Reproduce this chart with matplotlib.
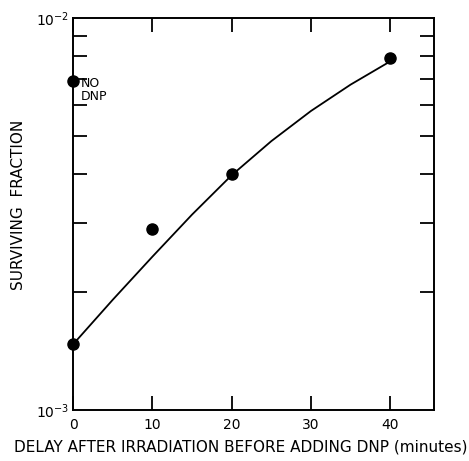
import numpy as np
import matplotlib
matplotlib.use('Agg')
import matplotlib.pyplot as plt
from matplotlib.ticker import LogLocator, NullFormatter, FixedLocator

# measured points (delay in minutes, surviving fraction)
delay = [0, 10, 20, 40]
surv = [1.47e-3, 2.9e-3, 4.0e-3, 7.9e-3]
# control without DNP, plotted at 0
no_dnp_x = [0]
no_dnp_y = [6.9e-3]

# hand drawn curve
curve_x = [0, 5, 10, 15, 20, 25, 30, 35, 40]
curve_y = [1.47e-3, 1.91e-3, 2.46e-3, 3.15e-3, 3.97e-3, 4.85e-3, 5.79e-3, 6.76e-3, 7.75e-3]

xticks = [0, 10, 20, 30, 40]

plt.rcParams['font.family'] = ['DejaVu Sans']
plt.rcParams['mathtext.fontset'] = 'dejavusans'

fig = plt.figure(figsize=(4.69, 4.61), dpi=100, facecolor='white')
ax = fig.add_axes([0.156, 0.111, 0.769, 0.850])

ax.plot(curve_x, curve_y, '-', color='black', lw=1.3)
ax.plot(delay, surv, 'o', color='black', ms=8, clip_on=False, zorder=3)
ax.plot(no_dnp_x, no_dnp_y, 'o', color='black', ms=8, clip_on=False, zorder=3)

ax.set_yscale('log')
ax.set_ylim(1e-3, 1e-2)
ax.set_xlim(0, 45.5)

ax.set_xticks(xticks)
ax.set_xticklabels([str(v) for v in xticks], fontsize=10)
ax.yaxis.set_major_locator(FixedLocator([1e-3, 1e-2]))
ax.set_yticklabels([r'$10^{-3}$', r'$10^{-2}$'], fontsize=10)
ax.yaxis.set_minor_locator(LogLocator(base=10, subs=np.arange(2, 10)))
ax.yaxis.set_minor_formatter(NullFormatter())

ax.tick_params(axis='x', which='major', direction='in', length=10, width=1.3,
               top=True, bottom=True, pad=6)
ax.tick_params(axis='y', which='major', direction='in', length=0, pad=3)
ax.tick_params(axis='y', which='minor', direction='in', length=10, width=1.3,
               left=True, right=True)

for s in ax.spines.values():
    s.set_linewidth(1.4)

ax.text(1.0, 7.05e-3, 'NO\nDNP', fontsize=9, va='top', ha='left', linespacing=0.95)

ax.set_xlabel('DELAY AFTER IRRADIATION BEFORE ADDING DNP (minutes)', fontsize=11)
ax.set_ylabel('SURVIVING  FRACTION', fontsize=11)
ax.xaxis.set_label_coords(0.465, -0.075)
ax.yaxis.set_label_coords(-0.13, 0.523)

fig.savefig('out.png', dpi=100)
